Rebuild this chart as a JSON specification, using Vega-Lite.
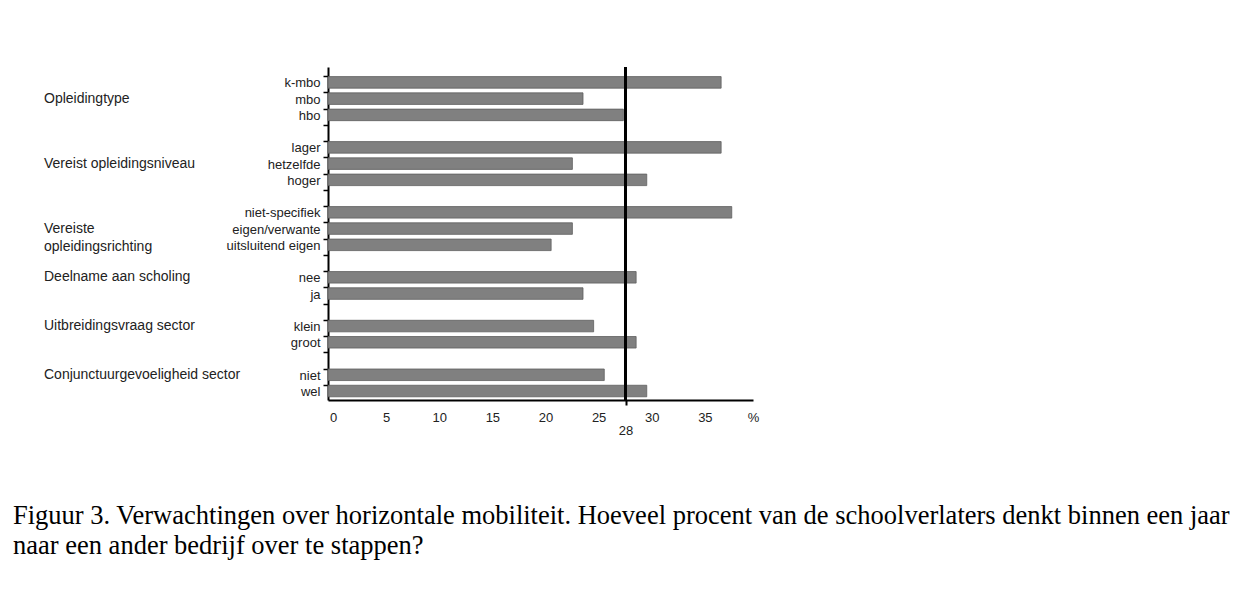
{
  "$schema": "https://vega.github.io/schema/vega-lite/v6.json",
  "width": 425,
  "height": 333,
  "autosize": {"type": "none"},
  "padding": {"left": 328, "top": 67, "right": 495, "bottom": 212},
  "background": "white",
  "config": {"view": {"stroke": null}, "font": "Liberation Sans"},
  "title": {
    "text": ["Figuur 3. Verwachtingen over horizontale mobiliteit. Hoeveel procent van de schoolverlaters denkt binnen een jaar", "naar een ander bedrijf over te stappen?"],
    "orient": "bottom",
    "anchor": "start",
    "frame": "group",
    "dx": -315,
    "offset": 66,
    "font": "Liberation Serif",
    "fontSize": 26.5,
    "fontWeight": "normal",
    "color": "black",
    "lineHeight": 30
  },
  "data": {
    "values": [
      {"group": "Opleidingtype", "category": "k-mbo", "value": 37},
      {"group": "Opleidingtype", "category": "mbo", "value": 24},
      {"group": "Opleidingtype", "category": "hbo", "value": 27.8},
      {"group": "Vereist opleidingsniveau", "category": "lager", "value": 37},
      {"group": "Vereist opleidingsniveau", "category": "hetzelfde", "value": 23},
      {"group": "Vereist opleidingsniveau", "category": "hoger", "value": 30},
      {"group": "Vereiste\nopleidingsrichting", "category": "niet-specifiek", "value": 38},
      {"group": "Vereiste\nopleidingsrichting", "category": "eigen/verwante", "value": 23},
      {"group": "Vereiste\nopleidingsrichting", "category": "uitsluitend eigen", "value": 21},
      {"group": "Deelname aan scholing", "category": "nee", "value": 29},
      {"group": "Deelname aan scholing", "category": "ja", "value": 24},
      {"group": "Uitbreidingsvraag sector", "category": "klein", "value": 25},
      {"group": "Uitbreidingsvraag sector", "category": "groot", "value": 29},
      {"group": "Conjunctuurgevoeligheid sector", "category": "niet", "value": 26},
      {"group": "Conjunctuurgevoeligheid sector", "category": "wel", "value": 30}
    ]
  },
  "layer": [
    {
      "mark": {"type": "bar", "color": "#808080", "stroke": "#5e5e5e", "strokeWidth": 0.8},
      "encoding": {
        "y": {
          "field": "category",
          "type": "nominal",
          "scale": {
            "domain": ["k-mbo", "mbo", "hbo", " ", "lager", "hetzelfde", "hoger", "  ", "niet-specifiek", "eigen/verwante", "uitsluitend eigen", "   ", "nee", "ja", "    ", "klein", "groot", "     ", "niet", "wel"],
            "paddingInner": 0.29,
            "paddingOuter": 0.395,
            "align": 0.75
          },
          "axis": {
            "title": null,
            "bandPosition": 0,
            "domainColor": "black",
            "domainWidth": 2,
            "tickColor": "black",
            "tickWidth": 1.5,
            "tickSize": 5,
            "labelFontSize": 13,
            "labelColor": "#222222",
            "labelPadding": 3,
            "labelBaseline": "middle",
            "labelOffset": 1
          }
        },
        "x": {
          "field": "value",
          "type": "quantitative",
          "scale": {"domain": [0, 40], "nice": false},
          "axis": {
            "title": null,
            "values": [0, 5, 10, 15, 20, 25, 30, 35, 40, 28],
            "labelExpr": "datum.value == 40 ? '%' : datum.label",
            "grid": false,
            "domainColor": "black",
            "domainWidth": 2,
            "ticks": true,
            "tickSize": 5,
            "tickWidth": 2,
            "tickColor": "black",
            "tickOpacity": {"condition": {"test": "datum.value == 28", "value": 1}, "value": 0},
            "labelFlush": false,
            "labelOverlap": false,
            "labelPadding": {"condition": {"test": "datum.value == 28", "value": 19}, "value": 6},
            "labelOffset": {"condition": {"test": "datum.value == 28 || datum.value == 40", "value": 0}, "value": 5},
            "labelFontSize": 13,
            "labelColor": "#222222"
          }
        }
      }
    },
    {
      "mark": {"type": "rule", "color": "black", "strokeWidth": 2},
      "encoding": {"x": {"datum": 28}}
    },
    {
      "transform": [
        {"window": [{"op": "row_number", "as": "rank"}], "groupby": ["group"]},
        {"joinaggregate": [{"op": "count", "as": "n"}], "groupby": ["group"]},
        {"filter": "datum.rank == ceil(datum.n / 2)"}
      ],
      "mark": {"type": "text", "align": "left", "baseline": "middle", "dx": -284, "fontSize": 14, "lineBreak": "\n", "lineHeight": 18, "color": "#222222"},
      "encoding": {
        "y": {"field": "category", "type": "nominal"},
        "x": {"datum": 0},
        "text": {"field": "group"}
      }
    }
  ]
}
